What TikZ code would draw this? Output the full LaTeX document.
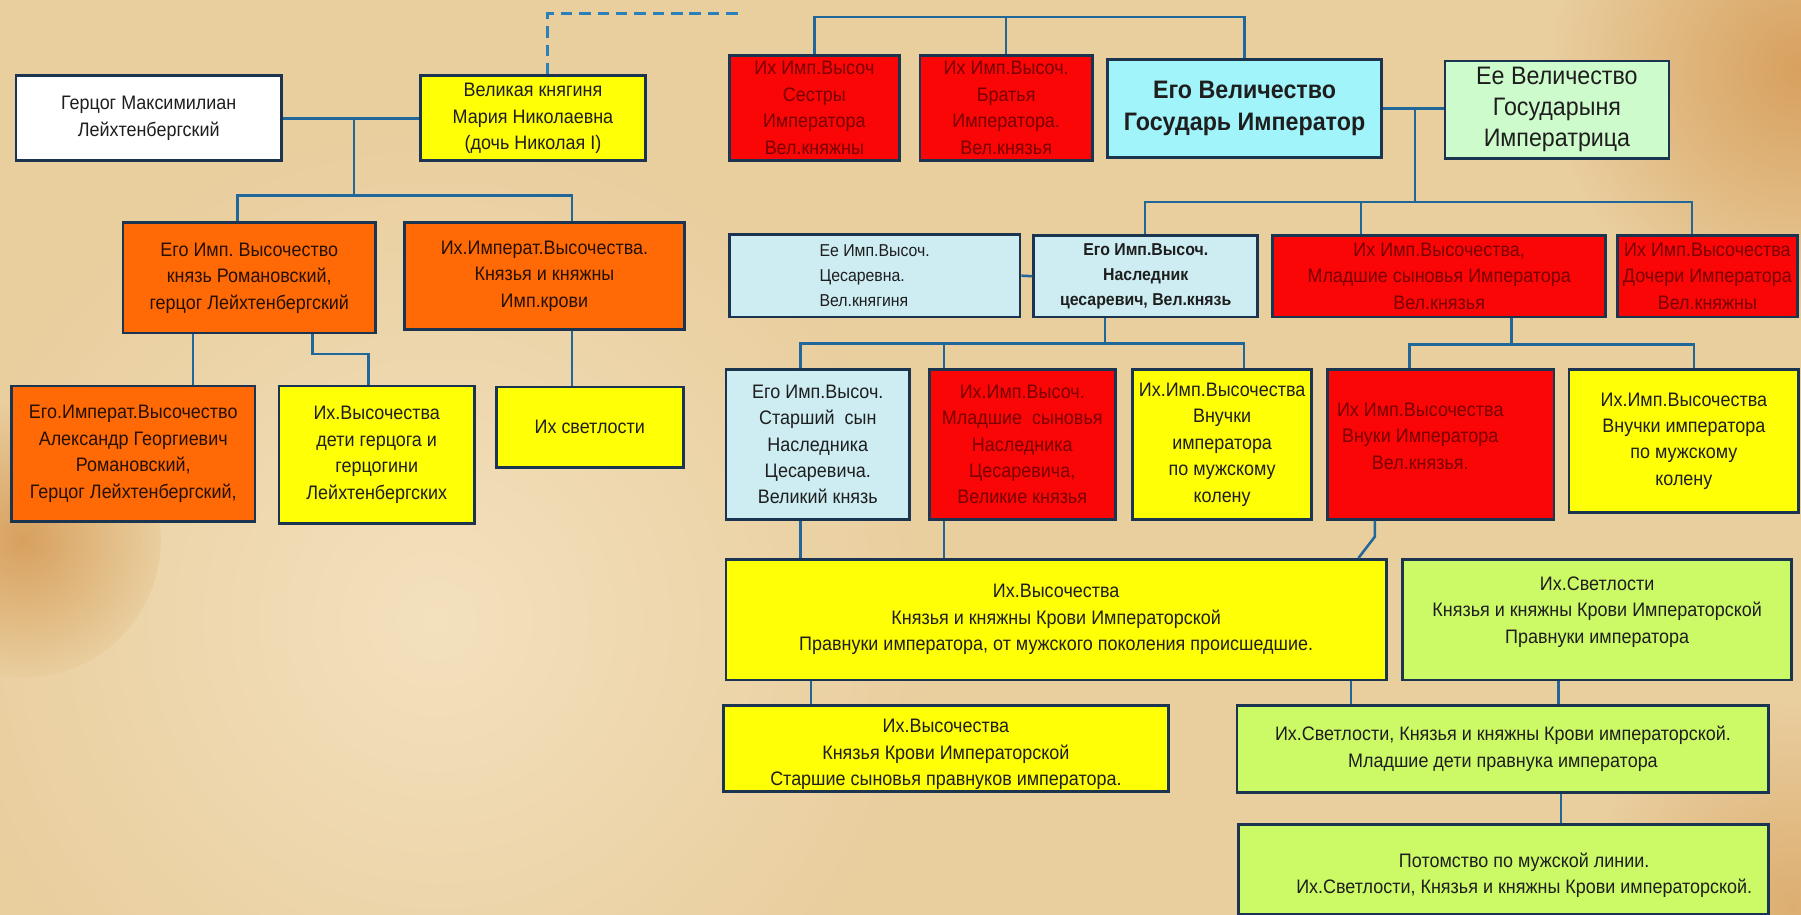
\documentclass[tikz,border=0pt]{standalone}
\usepackage{fontspec}
\setmainfont{Liberation Sans}[FakeStretch=0.92]
\usetikzlibrary{calc}
\frenchspacing
\definecolor{bgc}{HTML}{E9CE9E}
\definecolor{bglight}{HTML}{F3E0BD}
\definecolor{bgdark}{HTML}{D7A05E}
\definecolor{linec}{HTML}{22679A}
\definecolor{dashc}{HTML}{2C80BA}
\definecolor{bordc}{HTML}{1B3550}
\definecolor{cred}{HTML}{FA0606}
\definecolor{corange}{HTML}{FF6A06}
\definecolor{cyellow}{HTML}{FFFF06}
\definecolor{ccyan}{HTML}{A0F4FA}
\definecolor{clblue}{HTML}{CDEDF3}
\definecolor{clgreen}{HTML}{CEFBCB}
\definecolor{clime}{HTML}{CCFA66}
\definecolor{txtc}{HTML}{1E1E1E}
\definecolor{txtred}{HTML}{7A0000}
\newcommand\bx[7]{\node[box,#6,minimum width={(#4)-(#2)},minimum height={(#5)-(#3)}] (#1) at ({((#2)+(#4))/2},{((#3)+(#5))/2}) {#7};}
\newcommand\offtext[3]{\hspace*{#1}\raisebox{#2}[\height][\depth]{\begin{tabular}{@{}c@{}}#3\end{tabular}}\hspace*{-#1}}
\begin{document}
\begin{tikzpicture}[x=1pt,y=-1pt,
  box/.style={draw=bordc,line width=2.4pt,inner sep=1pt,align=center,text=txtc,font=\fontsize{17}{23}\selectfont},
  red/.style={fill=cred,text=txtred},
  orange/.style={fill=corange,text=black!85!corange},
  yellow/.style={fill=cyellow},
  white/.style={fill=white},
  cyanb/.style={fill=ccyan},
  lblue/.style={fill=clblue},
  lgreen/.style={fill=clgreen},
  lime/.style={fill=clime},
  conn/.style={draw=linec,line width=2.2pt},
  dashconn/.style={draw=dashc,line width=2.6pt,dash pattern=on 10pt off 6pt}]
\useasboundingbox (0,0) rectangle (1568,796);
% parchment background
\fill[bgc] (-2,-2) rectangle (1570,798);
\shade[inner color=bglight,outer color=bgc] (380,540) circle (430);
\shade[inner color=bgdark,outer color=bgc] (1568,60) circle (220);
\shade[inner color=bgdark,outer color=bgc] (20,470) circle (120);
\shade[inner color=bgdark!70!bgc,outer color=bgc] (1560,790) circle (180);

% boxes, left family
\bx{gm}{14}{66}{245}{140}{white}{Герцог Максимилиан\\Лейхтенбергский}
\bx{mn}{366}{66}{562}{140}{yellow}{Великая княгиня\\Мария Николаевна\\(дочь Николая I)}
\bx{rom}{107}{194}{327}{290}{orange}{Его Имп. Высочество\\князь Романовский,\\герцог Лейхтенбергский}
\bx{iv}{352}{194}{596}{287}{orange}{Их.Императ.Высочества.\\Князья и княжны\\Имп.крови}
\bx{alx}{10}{336}{222}{454}{orange}{Его.Императ.Высочество\\Александр Георгиевич\\Романовский,\\Герцог Лейхтенбергский,}
\bx{det}{243}{336}{413}{456}{yellow}{Их.Высочества\\дети герцога и\\герцогини\\Лейхтенбергских}
\bx{sv}{432}{337}{595}{407}{yellow}{Их светлости}

% boxes, imperial family
\bx{sis}{635}{48}{783}{140}{red}{Их Имп.Высоч\\Сестры\\Императора\\Вел.княжны}
\bx{bro}{801}{48}{951}{140}{red}{Их Имп.Высоч.\\Братья\\Императора.\\Вел.князья}
\bx{emp}{964}{52}{1203}{137}{cyanb,font=\fontsize{22}{28}\selectfont\bfseries}{Его Величество\\Государь Император}
\bx{emps}{1258}{53}{1453}{138}{lgreen,font=\fontsize{22}{27}\selectfont}{Ее Величество\\Государыня\\Императрица}
\bx{ces}{635}{204}{888}{276}{lblue,align=left,font=\fontsize{15}{22}\selectfont}{Ее Имп.Высоч.\\Цесаревна.\\Вел.княгиня}
\bx{her}{900}{205}{1095}{276}{lblue,font=\fontsize{15}{22}\selectfont\bfseries}{Его Имп.Высоч.\\Наследник\\цесаревич, Вел.князь}
\bx{ms}{1108}{205}{1398}{276}{red}{Их Имп.Высочества,\\Младшие сыновья Императора\\Вел.князья}
\bx{dau}{1408}{205}{1565}{276}{red}{Их Имп.Высочества\\Дочери Императора\\Вел.княжны}
\bx{old}{632}{322}{792}{452}{lblue}{Его Имп.Высоч.\\Старший\ \ сын\\Наследника\\Цесаревича.\\Великий князь}
\bx{yn}{809}{322}{971}{452}{red}{Их.Имп.Высоч.\\Младшие\ \ сыновья\\Наследника\\Цесаревича,\\Великие князья}
\bx{vn1}{986}{322}{1142}{452}{yellow}{Их.Имп.Высочества\\Внучки\\императора\\по мужскому\\колену}
\bx{vk}{1156}{322}{1353}{452}{red}{\offtext{-18pt}{6pt}{Их Имп.Высочества\\Внуки Императора\\Вел.князья.}}
\bx{vn2}{1366}{322}{1566}{446}{yellow}{Их.Имп.Высочества\\Внучки императора\\по мужскому\\колену}
\bx{big}{632}{487}{1207}{592}{yellow}{Их.Высочества\\Князья и княжны Крови Императорской\\Правнуки императора, от мужского поколения происшедшие.}
\bx{gr4}{1221}{487}{1560}{592}{lime}{\offtext{0pt}{7pt}{Их.Светлости\\Князья и княжны Крови Императорской\\Правнуки императора}}
\bx{kk}{630}{614}{1017}{689}{yellow}{\offtext{0pt}{-5pt}{Их.Высочества\\Князья Крови Императорской\\Старшие сыновья правнуков императора.}}
\bx{gr5}{1077}{614}{1540}{690}{lime}{Их.Светлости, Князья и княжны Крови императорской.\\Младшие дети правнука императора}
\bx{pot}{1078}{718}{1540}{796}{lime}{\offtext{18pt}{-5pt}{Потомство по мужской линии.\\Их.Светлости, Князья и княжны Крови императорской.}}

% connectors, left family
\coordinate (dend) at (645,12);
\draw[dashconn] ([xshift=13pt]mn.north) |- (dend);
\coordinate (j1) at (308,103);
\coordinate (j1b) at (308,170);
\draw[conn] (gm.east) -- (mn.west);
\draw[conn] (j1) -- (j1b);
\draw[conn] ([xshift=-10pt]rom.north) |- (j1b) -| ([xshift=24pt]iv.north);
\draw[conn] ([xshift=-49pt]rom.south) -- ([xshift=-49pt]rom.south |- alx.north);
\draw[conn] ([xshift=55pt]rom.south) -- ++(0,17) -| ([xshift=-7pt]det.north);
\draw[conn] ([xshift=24pt]iv.south) -- ([xshift=24pt]iv.south |- sv.north);

% connectors, imperial family
\coordinate (t0) at (876,15);
\draw[conn] (sis.north) |- (t0) -| (emp.north);
\draw[conn] (bro.north) -- (t0);
\coordinate (j2) at (1232,95);
\coordinate (j2b) at (1232,176);
\draw[conn] (emp.east) -- (emp.east -| emps.west);
\draw[conn] (j2) -- (j2b);
\draw[conn] ([xshift=-13.5pt]dau.north) |- (j2b) -| ([xshift=-0.5pt]her.north);
\draw[conn] ([xshift=-68pt]ms.north) -- ([xshift=-68pt]ms.north |- j2b);
\draw[conn] (ces.east) -- (her.west);
\coordinate (j3) at (962,299);
\draw[conn] (j3 |- her.south) -- (j3);
\draw[conn] ([xshift=-15pt]old.north) |- (j3) -| ([xshift=19pt]vn1.north);
\draw[conn] ([xshift=-68pt]yn.north) -- ([xshift=-68pt]yn.north |- j3);
\coordinate (j4) at (1316,300);
\draw[conn] (j4 |- ms.south) -- (j4);
\draw[conn] ([xshift=-27.5pt]vk.north) |- (j4) -| ([xshift=9pt]vn2.north);
\draw[conn] ([xshift=-15pt]old.south) -- ([xshift=-15pt]old.south |- big.north);
\draw[conn] ([xshift=-68pt]yn.south) -- ([xshift=-68pt]yn.south |- big.north);
\draw[conn] ([xshift=-57.5pt]vk.south) -- ++(0,14) -- ([xshift=-25.5pt]big.north east);
\draw[conn] ([xshift=-213.5pt]big.south) -- ([xshift=-213.5pt]big.south |- kk.north);
\draw[conn] ([xshift=256.5pt]big.south) -- ([xshift=256.5pt]big.south |- gr5.north);
\draw[conn] ([xshift=-33.5pt]gr4.south) -- ([xshift=-33.5pt]gr4.south |- gr5.north);
\draw[conn] ([xshift=50.5pt]gr5.south) -- ([xshift=50.5pt]gr5.south |- pot.north);
\end{tikzpicture}
\end{document}
